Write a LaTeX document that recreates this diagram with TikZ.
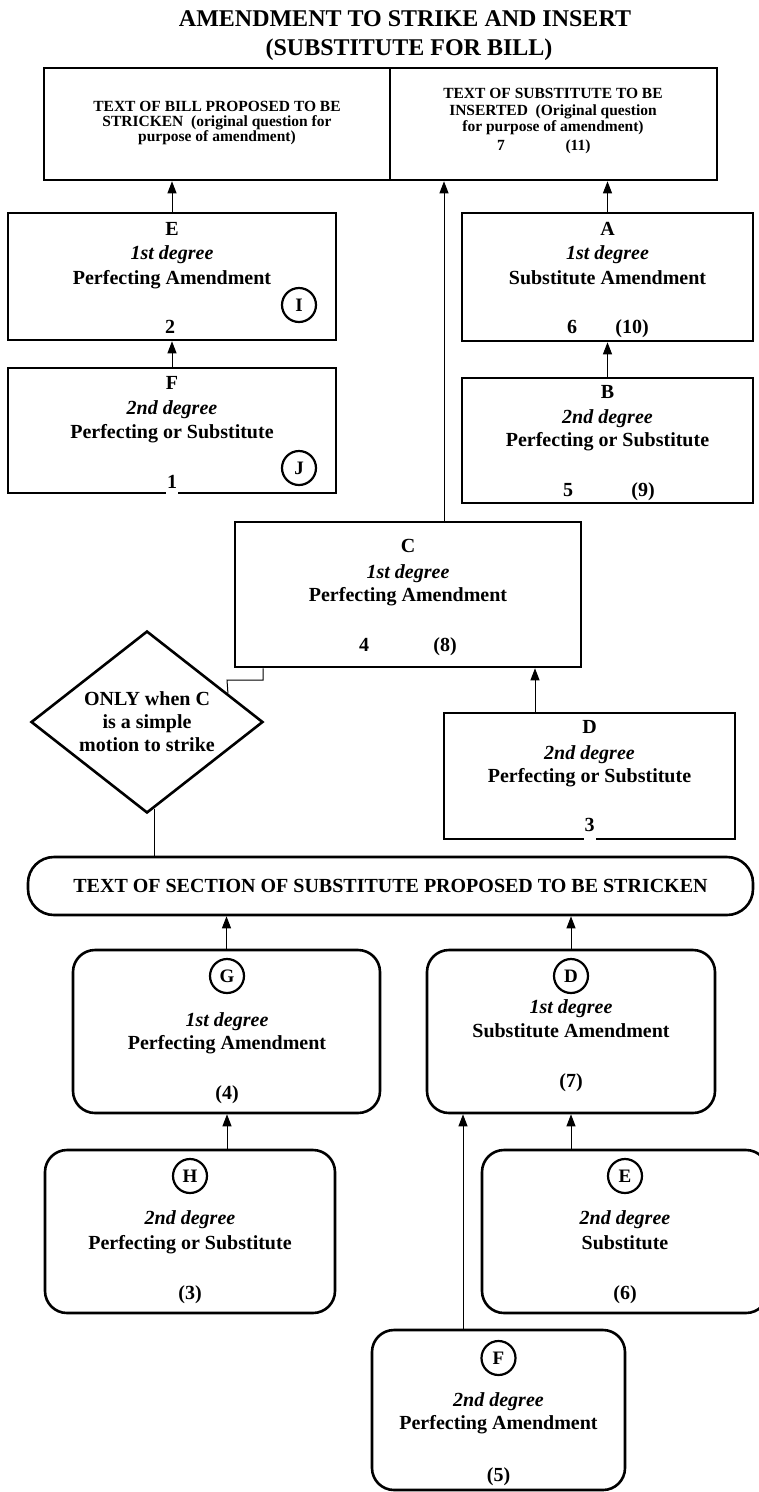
\documentclass[tikz,border=0pt]{standalone}
\usepackage{fontspec}
\setmainfont{Liberation Serif}
\usetikzlibrary{arrows.meta,shapes.geometric}
\newcommand\mkbox[6]{\node[#6, minimum width={(#4-#2)*1pt}, minimum height={(#5-#3)*1pt}] (#1) at ({(#2+#4)/2},{(#3+#5)/2}) {};}
\begin{document}
\begin{tikzpicture}[x=1pt,y=-1pt,
  bx/.style={draw, line width=2.6pt, inner sep=0pt},
  rbx/.style={bx, rounded corners=22pt},
  t/.style={anchor=base, inner sep=0pt, font=\bfseries\fontsize{20}{24}\selectfont},
  ts/.style={anchor=base, inner sep=0pt, font=\bfseries\fontsize{15.5}{15.5}\selectfont},
  ttl/.style={anchor=base, inner sep=0pt, font=\bfseries\fontsize{24}{28}\selectfont},
  circ/.style={draw, circle, line width=2.2pt, minimum size=34pt, inner sep=0pt, font=\bfseries\fontsize{19}{24}\selectfont},
  arr/.style={-{Triangle[length=12pt,width=9pt]}, line width=1pt},
  ln/.style={line width=1pt}]
\useasboundingbox (0,0) rectangle (759,1492);
% title
\node[ttl] (title1) at (405,26) {AMENDMENT TO STRIKE AND INSERT};
\node[ttl] (title2) at (409,55) {(SUBSTITUTE FOR BILL)};
% top box
\mkbox{top}{44}{68}{717}{180}{bx}
\draw[line width=2.6pt] (390,68) -- (390,180);
\node[ts] (topL1) at (217,111) {TEXT OF BILL PROPOSED TO BE};
\node[ts] (topL2) at (217,126) {STRICKEN\ \ (original question for};
\node[ts] (topL3) at (217,141) {purpose of amendment)};
\node[ts] (topR1) at (553,98) {TEXT OF SUBSTITUTE TO BE};
\node[ts] (topR2) at (553,115) {INSERTED\ \ (Original question};
\node[ts] (topR3) at (553,131) {for purpose of amendment)};
\node[ts] (topR4) at (501,150) {7};
\node[ts] (topR5) at (578,150) {(11)};
% E box
\mkbox{E}{8}{213}{336}{340}{bx}
\node[t] (E1) at (172,235) {E};
\node[t] (E2) at (172,259) {\itshape 1st degree};
\node[t] (E3) at (172,284) {Perfecting Amendment};
\node[t] (E4) at (170,333) {2};
\node[circ] (cI) at (299,305) {I};
% F box
\mkbox{F}{8}{368}{336}{493}{bx}
\fill[white] (166,490) rectangle (178,496);
\node[t] (F1) at (172,389) {F};
\node[t] (F2) at (172,414) {\itshape 2nd degree};
\node[t] (F3) at (172,438) {Perfecting or Substitute};
\node[t] (F4) at (172,488) {1};
\node[circ] (cJ) at (299,468) {J};
% A box
\mkbox{A}{462}{213}{753}{341}{bx}
\node[t] (A1) at (607.5,235) {A};
\node[t] (A2) at (607.5,259) {\itshape 1st degree};
\node[t] (A3) at (607.5,284) {Substitute Amendment};
\node[t] (A4) at (572,333) {6};
\node[t] (A5) at (632,333) {(10)};
% B box
\mkbox{B}{462}{378}{753}{503}{bx}
\node[t] (B1) at (607.5,398) {B};
\node[t] (B2) at (607.5,423) {\itshape 2nd degree};
\node[t] (B3) at (607.5,446) {Perfecting or Substitute};
\node[t] (B4) at (568,496) {5};
\node[t] (B5) at (643,496) {(9)};
% C box
\mkbox{C}{235}{522}{581}{667}{bx}
\node[t] (C1) at (408,552) {C};
\node[t] (C2) at (408,578) {\itshape 1st degree};
\node[t] (C3) at (408,601) {Perfecting Amendment};
\node[t] (C4) at (364,651) {4};
\node[t] (C5) at (445,651) {(8)};
% diamond
\node[draw, diamond, line width=2.6pt, inner sep=0pt, aspect=1.27, minimum width=232pt, minimum height=182pt] (dia) at (147,722) {};
\node[t] (dia1) at (147,705) {ONLY when C};
\node[t] (dia2) at (147,728) {is a simple};
\node[t] (dia3) at (147,751) {motion to strike};
% D box
\mkbox{D}{444}{713}{735}{839}{bx}
\fill[white] (584,836) rectangle (596,842);
\node[t] (D1) at (589.5,733) {D};
\node[t] (D2) at (589.5,759) {\itshape 2nd degree};
\node[t] (D3) at (589.5,782) {Perfecting or Substitute};
\node[t] (D4) at (589.5,831) {3};
% pill
\node[bx, rounded corners=26pt, minimum width=725pt, minimum height=58pt, font=\bfseries\fontsize{20}{24}\selectfont] (pill) at (390.5,886) {TEXT OF SECTION OF SUBSTITUTE PROPOSED TO BE STRICKEN};
% G box
\mkbox{G}{73}{950}{380}{1113}{rbx}
\node[circ] (cG) at (227,976) {G};
\node[t] (G2) at (227,1026) {\itshape 1st degree};
\node[t] (G3) at (227,1049) {Perfecting Amendment};
\node[t] (G4) at (227,1099) {(4)};
% D' box
\mkbox{Dd}{427}{950}{715}{1113}{rbx}
\node[circ] (cD) at (571,976) {D};
\node[t] (Dd2) at (571,1013) {\itshape 1st degree};
\node[t] (Dd3) at (571,1037) {Substitute Amendment};
\node[t] (Dd4) at (571,1087) {(7)};
% H box
\mkbox{H}{45}{1150}{335}{1313}{rbx}
\node[circ] (cH) at (190,1176) {H};
\node[t] (H2) at (190,1224) {\itshape 2nd degree};
\node[t] (H3) at (190,1249) {Perfecting or Substitute};
\node[t] (H4) at (190,1299) {(3)};
% E' box
\mkbox{Ee}{482}{1150}{768}{1313}{rbx}
\node[circ] (cE) at (625,1176) {E};
\node[t] (Ee2) at (625,1224) {\itshape 2nd degree};
\node[t] (Ee3) at (625,1249) {Substitute};
\node[t] (Ee4) at (625,1299) {(6)};
% F' box
\mkbox{Ff}{372}{1330}{625}{1490}{rbx}
\node[circ] (cF) at (498.5,1358) {F};
\node[t] (Ff2) at (498.5,1406) {\itshape 2nd degree};
\node[t] (Ff3) at (498.5,1429) {Perfecting Amendment};
\node[t] (Ff4) at (498.5,1481) {(5)};
% connectors
\draw[arr] (E.north) -- (E.north |- top.south);
\draw[arr] (F.north) -- (E.south);
\draw[arr] (A.north) -- (A.north |- top.south);
\draw[arr] (B.north) -- (A.south);
\draw[arr] ([xshift=36pt]C.north) -- ([xshift=36pt]C.north |- top.south);
\draw[arr] ([xshift=-54.5pt]D.north) -- ([xshift=-54.5pt]D.north |- C.south);
\path (dia.north) -- (dia.east) coordinate[pos=0.69] (diaNE);
\path (dia.south) -- (dia.east) coordinate[pos=0.06] (diaSE);
\draw[ln] ([xshift=-145pt]C.south) |- (227,680) -- (diaNE);
\draw[ln] (diaSE) -- (diaSE |- pill.north);
\draw[arr] (G.north) -- (G.north |- pill.south);
\draw[arr] (Dd.north) -- (Dd.north |- pill.south);
\draw[arr] ([xshift=37pt]H.north) -- ([xshift=37pt]H.north |- G.south);
\draw[arr] ([xshift=-54pt]Ee.north) -- ([xshift=-54pt]Ee.north |- Dd.south);
\draw[arr] ([xshift=-35.5pt]Ff.north) -- ([xshift=-35.5pt]Ff.north |- Dd.south);
\end{tikzpicture}
\end{document}
